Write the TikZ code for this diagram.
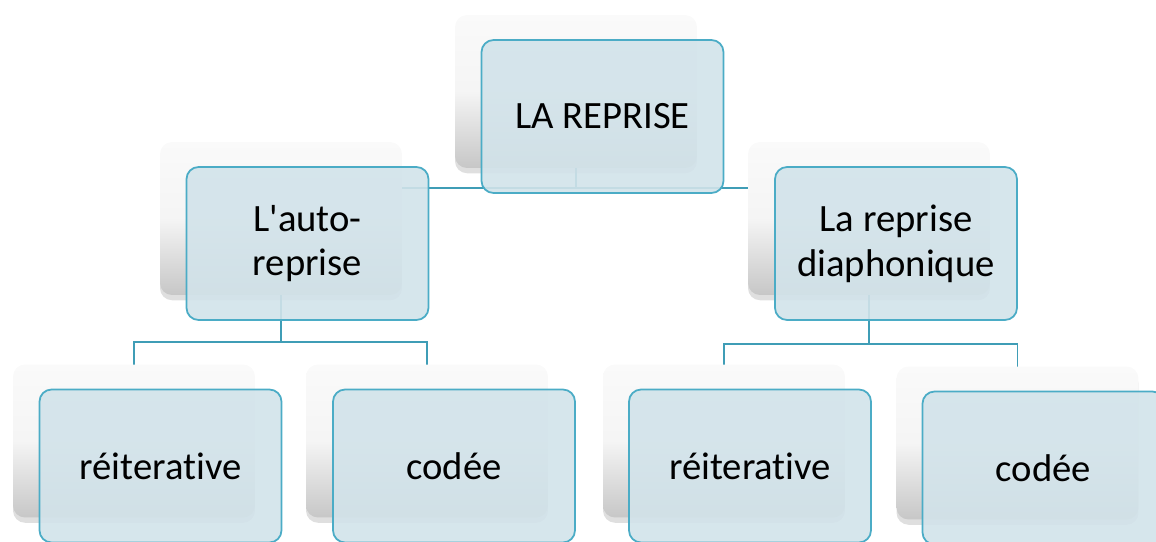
\documentclass[tikz,border=0pt]{standalone}
\usepackage{fontspec}
\setmainfont[Ligatures={NoCommon}]{Carlito}
\usetikzlibrary{positioning,shadows,backgrounds}

\definecolor{cardfill}{HTML}{D2E3EA}
\definecolor{cardline}{HTML}{4BACC6}
\definecolor{linkcol}{HTML}{3F9DB6}

\tikzset{
  backcard/.style={rounded corners=0.24cm, minimum width=4.84cm, minimum height=3.06cm,
    top color=black!2, bottom color=black!22, middle color=black!4,
    drop shadow={opacity=0.25, shadow xshift=0pt, shadow yshift=-3pt}},
  frontcard/.style={rounded corners=0.24cm, minimum width=4.84cm, minimum height=3.06cm,
    draw=cardline, line width=1pt, fill=cardfill, fill opacity=0.9, text opacity=1,
    align=center, font=\fontsize{22}{25.5}\selectfont},
  link/.style={draw=linkcol, line width=1pt}
}

\begin{document}
\begin{tikzpicture}[x=0.02cm, y=-0.02cm]
  \useasboundingbox (0,0) rectangle (1156,541);

  % back cards
  \node[backcard] (repB) at (576,91.5) {};
  \node[backcard] (autoB) at (281,218.5) {};
  \node[backcard] (diaB) at (869,218.5) {};
  \node[backcard] (reit1B) at (134,441) {};
  \node[backcard] (code1B) at (427,441) {};
  \node[backcard] (reit2B) at (724,441) {};
  \node[backcard] (code2B) at (1017.5,443) {};

  % joints
  \coordinate (j1) at (576,188);
  \coordinate (j2) at (281,342);
  \coordinate (j3) at (869,344);

  \begin{scope}[on background layer]
    \draw[link] (repB.center) -- (j1);
    \draw[link] (autoB.center) |- (j1) -| (diaB.center);
    \draw[link] (autoB.center) -- (j2);
    \draw[link] (reit1B.center) |- (j2) -| (code1B.center);
    \draw[link] (diaB.center) -- (j3);
    \draw[link] (reit2B.center) |- (j3) -| (code2B.center);
  \end{scope}

  % front cards
  \node[frontcard] (rep) at (602.5,116.5) {LA REPRISE};
  \node[frontcard] (auto) at (307.5,243.5) {L\textquotesingle auto-\\reprise};
  \node[frontcard] (dia) at (896,243.5) {La reprise\\diaphonique};
  \node[frontcard] (reit1) at (160.5,466) {réiterative};
  \node[frontcard] (code1) at (454,466) {codée};
  \node[frontcard] (reit2) at (750,466) {réiterative};
  \node[frontcard] (code2) at (1043.5,468) {codée};
\end{tikzpicture}
\end{document}
